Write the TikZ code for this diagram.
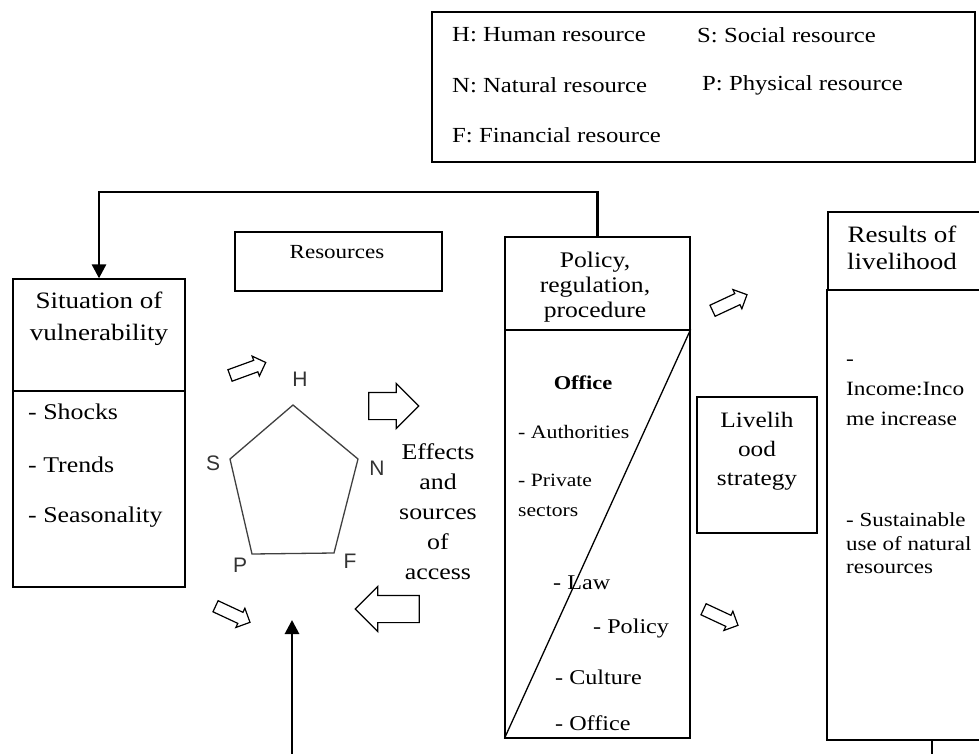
\documentclass[tikz,border=0pt]{standalone}
\usepackage{fontspec}
\setmainfont{Liberation Serif}[FakeStretch=1.15]
\newfontfamily\labelfont{Liberation Sans}
\usetikzlibrary{arrows.meta, positioning, shapes.arrows}

\tikzset{
  box/.style={draw, line width=1.3pt, inner sep=0pt},
  txt/.style={font=\fontsize{22}{30}\selectfont, align=center, inner sep=0pt},
  item/.style={font=\fontsize{21}{24}\selectfont, align=left, anchor=west, inner sep=0pt},
  vertex/.style={font=\labelfont\fontsize{21}{21}\selectfont, text=black!80, inner sep=0pt},
  feedback/.style={line width=2.8pt, -{Triangle[length=14pt, width=14pt]}},
  bigarrow/.style={single arrow, draw, line width=1.2pt, minimum width=0pt, inner sep=0pt,
    inner ysep=13pt, single arrow head extend=9pt, minimum height=#1},
  smallarrow/.style={single arrow, draw, line width=1.2pt, minimum width=0pt, inner sep=0pt,
    inner ysep=5.5pt, single arrow head extend=4.5pt, minimum height=38pt}
}

\begin{document}
\begin{tikzpicture}[x=1pt, y=-1pt]
    \useasboundingbox (0,0) rectangle (979,754);

    % Legend
    \node[box, minimum width=543pt, minimum height=150pt] (legend) at (703.5,87) {};
    \node[item, font=\fontsize{21.5}{24}\selectfont] (legH) at (452,35) {H: Human resource};
    \node[item, font=\fontsize{21.5}{24}\selectfont] (legS) at (697,35) {S: Social resource};
    \node[item, font=\fontsize{21.5}{24}\selectfont] (legN) at (452,85) {N: Natural resource};
    \node[item, font=\fontsize{21.5}{24}\selectfont] (legP) at (702,85) {P: Physical resource};
    \node[item, font=\fontsize{21.5}{24}\selectfont] (legF) at (452,135) {F: Financial resource};

    % Situation of vulnerability
    \node[box, minimum width=172pt, minimum height=112pt] (sitHead) at (99,335) {};
    \node[box, minimum width=172pt, minimum height=196pt] (sitBody) at (99,489) {};
    \node[txt, font=\fontsize{23.5}{32}\selectfont] (sitText) at (99,319) {Situation of\\vulnerability};
    \node[item, font=\fontsize{22.5}{24}\selectfont] (shocks) at (28,412) {- Shocks};
    \node[item, font=\fontsize{22.5}{24}\selectfont] (trends) at (28,465) {- Trends};
    \node[item, font=\fontsize{22.5}{24}\selectfont] (season) at (28,517) {- Seasonality};

    % Resources
    \node[box, minimum width=207pt, minimum height=59pt] (res) at (338.5,261.5) {};
    \node[txt, font=\fontsize{20}{24}\selectfont] (resText) at (337,252) {Resources};

    % Pentagon of resources
    \coordinate (H) at (293,405);
    \coordinate (N) at (358,459);
    \coordinate (F) at (334,553);
    \coordinate (P) at (252,554);
    \coordinate (S) at (230,459);
    \draw[line width=1.3pt, black!75] (H) -- (N) -- (F) -- (P) -- (S) -- cycle;
    \node[vertex] (labH) at (300,379) {H};
    \node[vertex] (labN) at (377,468) {N};
    \node[vertex] (labF) at (350,561) {F};
    \node[vertex] (labP) at (240,565) {P};
    \node[vertex] (labS) at (213,463) {S};

    \node[txt, font=\fontsize{22.5}{30}\selectfont] (effects) at (438,512) {Effects\\and\\sources\\of\\access};

    % Policy, regulation, procedure
    \node[box, minimum width=185pt, minimum height=93pt] (polHead) at (597.5,283.5) {};
    \node[box, minimum width=185pt, minimum height=408pt] (polBody) at (597.5,534) {};
    \draw[line width=1.3pt] (polBody.north east) -- (polBody.south west);
    \node[txt, font=\fontsize{22.3}{25}\selectfont] (polText) at (595,287) {Policy,\\regulation,\\procedure};
    \node[item, anchor=center, font=\bfseries\fontsize{19.5}{24}\selectfont] (office) at (583,383) {Office};
    \node[item, font=\fontsize{19}{24}\selectfont] (auth) at (518,432) {- Authorities};
    \node[item, font=\fontsize{18.8}{30}\selectfont] (private) at (518,495) {- Private\\sectors};
    \node[item] (law) at (553,583) {- Law};
    \node[item] (policy) at (593,628) {- Policy};
    \node[item] (culture) at (555,677) {- Culture};
    \node[item] (officeB) at (555,723) {- Office};

    % Livelihood strategy
    \node[box, minimum width=120pt, minimum height=136pt] (live) at (757,465) {};
    \node[txt, font=\fontsize{22}{29}\selectfont] (liveText) at (757,451) {Livelih\\ood\\strategy};

    % Results of livelihood
    \node[box, minimum width=160pt, minimum height=78pt] (outHead) at (908,251) {};
    \node[box, minimum width=160pt, minimum height=450pt] (outBody) at (907,515) {};
    \node[txt, font=\fontsize{23.5}{27}\selectfont] (outText) at (902,248) {Results of\\livelihood};
    \node[item, font=\fontsize{20.3}{30}\selectfont] (income) at (846,393) {-\\Income:Inco\\me increase};
    \node[item, font=\fontsize{20}{23.5}\selectfont] (sustain) at (846,543.5) {- Sustainable\\use of natural\\resources};

    % Block arrows
    \node[smallarrow, rotate=20] (arrH) at (245,370) {};
    \node[bigarrow, minimum height=50pt] (arrOut) at (387,406) {};
    \node[bigarrow, minimum height=64pt, rotate=180] (arrIn) at (394,609) {};
    \node[smallarrow, rotate=-25] (arrP) at (230,613) {};
    \node[smallarrow, rotate=25] (arrPol) at (727,304) {};
    \node[smallarrow, rotate=-25] (arrLive) at (718,616) {};

    % Feedback lines
    \coordinate (topturn) at (597,192);
    \draw[feedback] (polHead.north) |- (topturn) -| (sitHead.north);
    \coordinate (bottomL) at (292,754);
    \coordinate (pentBottom) at (292,620);
    \draw[feedback] (bottomL) -- (pentBottom);
    \coordinate (outFoot) at (932,740);
    \coordinate (bottomR) at (932,754);
    \draw[line width=2.8pt] (outFoot) -- (bottomR);
\end{tikzpicture}
\end{document}
